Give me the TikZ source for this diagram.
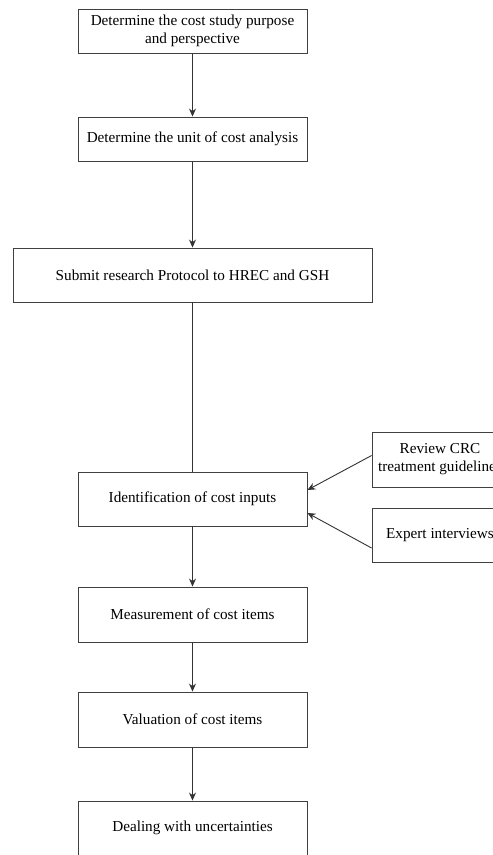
\documentclass[tikz,border=0pt]{standalone}
\usepackage{fontspec}
\setmainfont{Liberation Serif}
\usepackage{tikz}
\usetikzlibrary{shapes,arrows.meta,positioning,calc}

\tikzset{
    stepbox/.style={draw=black!75, line width=0.9pt, rectangle, align=center,
        minimum width=229pt, minimum height=54pt, inner sep=2pt,
        font=\fontsize{15.2}{18}\selectfont},
    sidebox/.style={stepbox, minimum width=136pt},
    flow/.style={draw=black!80, line width=0.9pt, -{Stealth[length=8pt,width=7pt]}},
    plain/.style={draw=black!80, line width=0.9pt}
}

\begin{document}
\begin{tikzpicture}[x=1pt,y=-1pt]
            \useasboundingbox[fill=white] (0,0) rectangle (493,855);
            % main steps
            \node[stepbox, minimum height=44pt] (purpose) at (192.5,31) {Determine the cost study purpose\\and perspective};
            \node[stepbox, minimum height=44pt] (unit) at (192.5,139) {Determine the unit of cost analysis};
            \node[stepbox, minimum width=359pt] (protocol) at (192.5,275) {Submit research Protocol to HREC and GSH};
            \node[stepbox] (inputs) at (192.5,499) {Identification of cost inputs};
            \node[stepbox, minimum height=55pt] (measure) at (192.5,614.5) {Measurement of cost items};
            \node[stepbox, minimum height=55pt] (value) at (192.5,719.5) {Valuation of cost items};
            \node[stepbox] (uncert) at (192.5,828) {Dealing with uncertainties};
            % sources for the cost inputs
            \node[sidebox, minimum height=55pt] (review) at (440,459.5) {Review CRC\\treatment guidelines};
            \node[sidebox] (expert) at (440,535) {Expert interviews};
            % connectors
            \draw[flow] (purpose) -- (unit);
            \draw[flow] (unit) -- (protocol);
            \draw[plain] (protocol) -- (inputs);
            \foreach \a/\b in {inputs/measure, measure/value, value/uncert} {
                \draw[flow] (\a) -- (\b);
            }
            \draw[flow] ([yshift=4pt]review.west) -- ([yshift=9pt]inputs.east);
            \draw[flow] ([yshift=-13pt]expert.west) -- ([yshift=-14pt]inputs.east);
        \end{tikzpicture}
\end{document}
